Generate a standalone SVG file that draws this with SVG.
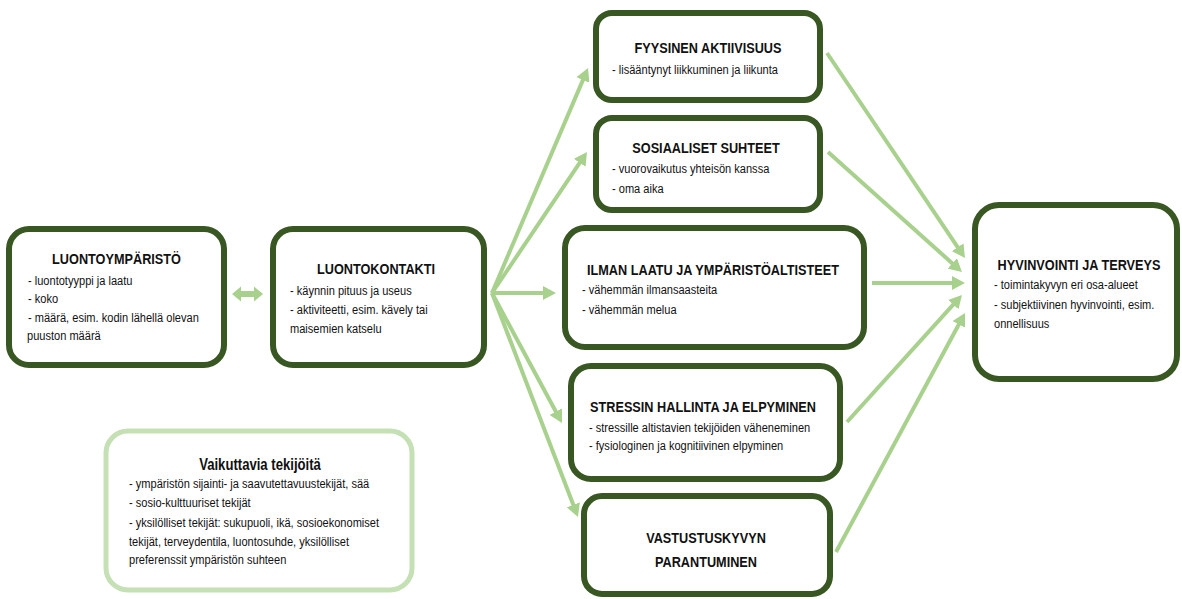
<svg xmlns="http://www.w3.org/2000/svg" width="1182" height="599" viewBox="0 0 1182 599">
<defs>
<style>
.box{fill:#fff;stroke:#385723;stroke-width:6}
.soft{fill:#fff;stroke:#c5e0b4;stroke-width:5}
.t{font-family:"Liberation Sans",Arial,sans-serif;font-weight:bold;font-size:15.5px;fill:#111;text-anchor:middle}
.b{font-family:"Liberation Sans",Arial,sans-serif;font-size:13.5px;fill:#111}
.c{stroke:#a9d18e;stroke-width:4;fill:none;marker-end:url(#ah)}
</style>
<marker id="ah" markerUnits="userSpaceOnUse" markerWidth="13" markerHeight="14" refX="5" refY="7" orient="auto">
<path d="M0,0 L13,7 L0,14 z" fill="#a9d18e"/>
</marker>
</defs>
<rect width="1182" height="599" fill="#fff"/>

<g id="connectors">
<polygon points="232,294 241,286.5 241,291 254,291 254,286.5 263,294 254,301.5 254,297 241,297 241,301.5" fill="#a9d18e"/>
<line class="c" x1="492" y1="293" x2="584.9" y2="75.4"/>
<line class="c" x1="492" y1="293" x2="582.5" y2="158.6"/>
<line class="c" x1="492" y1="293" x2="548" y2="293"/>
<line class="c" x1="492" y1="293" x2="558.2" y2="416"/>
<line class="c" x1="492" y1="293" x2="575.1" y2="509.5"/>
<line class="c" x1="827" y1="53" x2="960.5" y2="251.4"/>
<line class="c" x1="828" y1="152" x2="956" y2="266.7"/>
<line class="c" x1="872" y1="283" x2="957" y2="283"/>
<line class="c" x1="847" y1="422" x2="956.6" y2="300.9"/>
<line class="c" x1="836" y1="552" x2="961.2" y2="320"/>
</g>

<g id="luontoymparisto">
<rect class="box" x="9" y="229" width="215" height="136" rx="20"/>
<text class="t" transform="matrix(0.82 0 0 1 116.5 264)">LUONTOYMPÄRISTÖ</text>
<text class="b" transform="matrix(0.82 0 0 1 28 285)">- luontotyyppi ja laatu</text>
<text class="b" transform="matrix(0.82 0 0 1 28 303)">- koko</text>
<text class="b" transform="matrix(0.82 0 0 1 28 322)">- määrä, esim. kodin lähellä olevan</text>
<text class="b" transform="matrix(0.82 0 0 1 27 340)">puuston määrä</text>
</g>

<g id="luontokontakti">
<rect class="box" x="273" y="229" width="211" height="136" rx="20"/>
<text class="t" transform="matrix(0.82 0 0 1 376 274)">LUONTOKONTAKTI</text>
<text class="b" transform="matrix(0.82 0 0 1 290 295)">- käynnin pituus ja useus</text>
<text class="b" transform="matrix(0.82 0 0 1 290 314)">- aktiviteetti, esim. kävely tai</text>
<text class="b" transform="matrix(0.82 0 0 1 290 333)">maisemien katselu</text>
</g>

<g id="fyysinen">
<rect class="box" x="596" y="13" width="224" height="87" rx="16"/>
<text class="t" transform="matrix(0.82 0 0 1 708 53)">FYYSINEN AKTIIVISUUS</text>
<text class="b" transform="matrix(0.82 0 0 1 612 74)">- lisääntynyt liikkuminen ja liikunta</text>
</g>

<g id="sosiaaliset">
<rect class="box" x="596" y="118" width="224" height="92" rx="16"/>
<text class="t" transform="matrix(0.82 0 0 1 706 153)">SOSIAALISET SUHTEET</text>
<text class="b" transform="matrix(0.82 0 0 1 612 173)">- vuorovaikutus yhteisön kanssa</text>
<text class="b" transform="matrix(0.82 0 0 1 612 193)">- oma aika</text>
</g>

<g id="ilmanlaatu">
<rect class="box" x="565" y="228" width="299" height="119" rx="20"/>
<text class="t" transform="matrix(0.82 0 0 1 713 275)">ILMAN LAATU JA YMPÄRISTÖALTISTEET</text>
<text class="b" transform="matrix(0.82 0 0 1 582 294)">- vähemmän ilmansaasteita</text>
<text class="b" transform="matrix(0.82 0 0 1 582 314)">- vähemmän melua</text>
</g>

<g id="stressi">
<rect class="box" x="571" y="366" width="269" height="113" rx="20"/>
<text class="t" transform="matrix(0.82 0 0 1 703 412)">STRESSIN HALLINTA JA ELPYMINEN</text>
<text class="b" transform="matrix(0.82 0 0 1 589 431.5)">- stressille altistavien tekijöiden väheneminen</text>
<text class="b" transform="matrix(0.82 0 0 1 589 450)">- fysiologinen ja kognitiivinen elpyminen</text>
</g>

<g id="vastustuskyky">
<rect class="box" x="584" y="496" width="246" height="98" rx="18"/>
<text class="t" transform="matrix(0.82 0 0 1 706 542.5)">VASTUSTUSKYVYN</text>
<text class="t" transform="matrix(0.82 0 0 1 706 566.5)">PARANTUMINEN</text>
</g>

<g id="hyvinvointi">
<rect class="box" x="975" y="205" width="202" height="174" rx="24"/>
<text class="t" transform="matrix(0.82 0 0 1 1079 270)">HYVINVOINTI JA TERVEYS</text>
<text class="b" transform="matrix(0.82 0 0 1 994 289)">- toimintakyvyn eri osa-alueet</text>
<text class="b" transform="matrix(0.82 0 0 1 994 309)">- subjektiivinen hyvinvointi, esim.</text>
<text class="b" transform="matrix(0.82 0 0 1 994 328)">onnellisuus</text>
</g>

<g id="vaikuttavia">
<rect class="soft" x="106" y="431" width="306" height="159" rx="22"/>
<text class="t" transform="matrix(0.82 0 0 1 260 470)" style="font-size:16px">Vaikuttavia tekijöitä</text>
<text class="b" transform="matrix(0.82 0 0 1 129 488)">- ympäristön sijainti- ja saavutettavuustekijät, sää</text>
<text class="b" transform="matrix(0.82 0 0 1 129 507)">- sosio-kulttuuriset tekijät</text>
<text class="b" transform="matrix(0.82 0 0 1 129 527)">- yksilölliset tekijät: sukupuoli, ikä, sosioekonomiset</text>
<text class="b" transform="matrix(0.82 0 0 1 129 546)">tekijät, terveydentila, luontosuhde, yksilölliset</text>
<text class="b" transform="matrix(0.82 0 0 1 129 564)">preferenssit ympäristön suhteen</text>
</g>
</svg>
